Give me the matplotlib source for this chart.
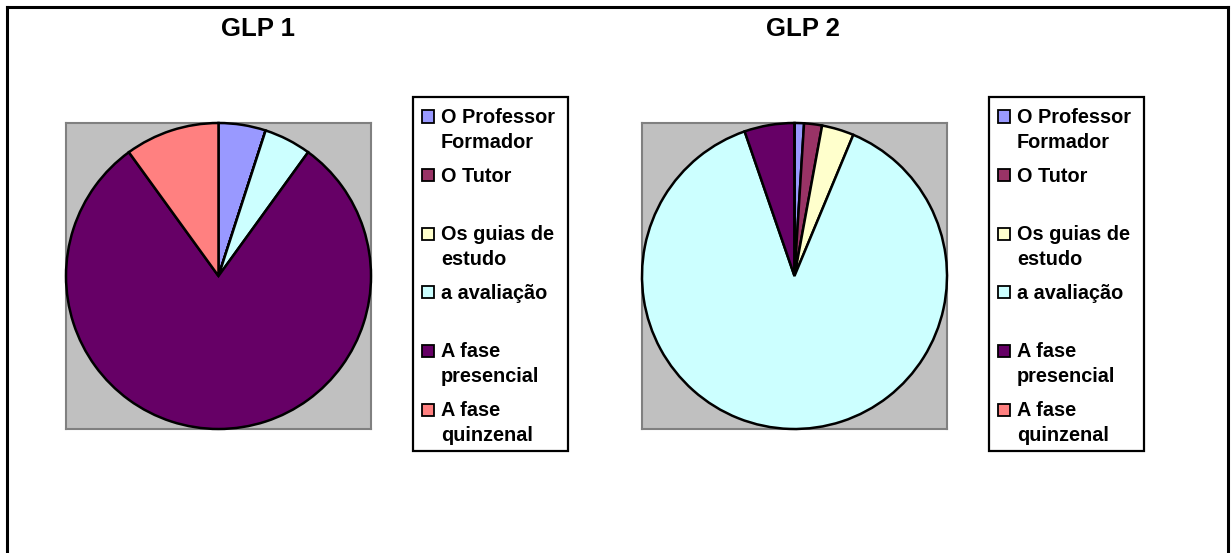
import matplotlib
matplotlib.use("Agg")
import matplotlib.pyplot as plt
from matplotlib.patches import Rectangle
from matplotlib.lines import Line2D

plt.rcParams['font.family'] = ['Liberation Sans', 'DejaVu Sans']

# data (percent of answers per group)
labels = ["O Professor\nFormador", "O Tutor", "Os guias de\nestudo",
          "a avaliação", "A fase\npresencial", "A fase\nquinzenal"]
colors = ['#9999FF', '#993366', '#FFFFCC', '#CCFFFF', '#660066', '#FF8080']
titles = ["GLP 1", "GLP 2"]
glp1 = [5.0, 0.0, 0.0, 5.0, 80.0, 10.0]
glp2 = [1.0, 1.9, 3.4, 88.4, 5.3, 0.0]

W, H = 1232, 553
fig = plt.figure(figsize=(W / 100, H / 100), dpi=100)
fig.patch.set_facecolor('white')


def fx(x):
    return x / W


def fy(y):
    return 1 - y / H


# outer chart border (bottom edge lies outside the picture)
for xs, ys in [((7, 7), (7, H + 5)), ((7, 1228), (7, 7)), ((1228, 1228), (7, H + 5))]:
    fig.add_artist(Line2D([fx(v) for v in xs], [fy(v) for v in ys],
                          color='black', linewidth=2.2, transform=fig.transFigure))


def draw_pie(values, title, left, title_x, legend_left):
    ax = fig.add_axes([fx(left), fy(429), fx(305), 306 / H])
    ax.set_facecolor('#C0C0C0')
    wedges, _ = ax.pie(values, colors=colors, startangle=90, counterclock=False,
                       radius=1.0, wedgeprops=dict(edgecolor='black', linewidth=1.8))
    for w in wedges:
        w.set_clip_on(False)
    ax.set_xlim(-1.0, 1.0)
    ax.set_ylim(-1.0, 1.0)
    ax.set_aspect('auto')
    ax.set_frame_on(True)
    for s in ax.spines.values():
        s.set_visible(True)
        s.set_color('#808080')
        s.set_linewidth(1.5)
        s.set_zorder(0.5)
    ax.set_xticks([])
    ax.set_yticks([])

    fig.text(fx(title_x), fy(29), title, fontsize=18.5, fontweight='bold',
             ha='center', va='center')

    # legend box
    fig.add_artist(Rectangle((fx(legend_left), fy(451)), fx(155), (451 - 97) / H,
                             facecolor='white', edgecolor='black', linewidth=1.6,
                             transform=fig.transFigure))
    for i, (lab, c) in enumerate(zip(labels, colors)):
        yc = 116.5 + i * 58.6
        fig.add_artist(Rectangle((fx(legend_left + 9), fy(yc + 6)), fx(12), 12 / H,
                                 facecolor=c, edgecolor='black', linewidth=1.3,
                                 transform=fig.transFigure))
        for j, line in enumerate(lab.split("\n")):
            fig.text(fx(legend_left + 28), fy(yc + 6.5 + j * 25), line,
                     fontsize=14.3, fontweight='bold', ha='left', va='baseline')


draw_pie(glp1, titles[0], 66, 258, 413)
draw_pie(glp2, titles[1], 642, 803, 989)

fig.savefig('out.png', dpi=100, facecolor='white')
